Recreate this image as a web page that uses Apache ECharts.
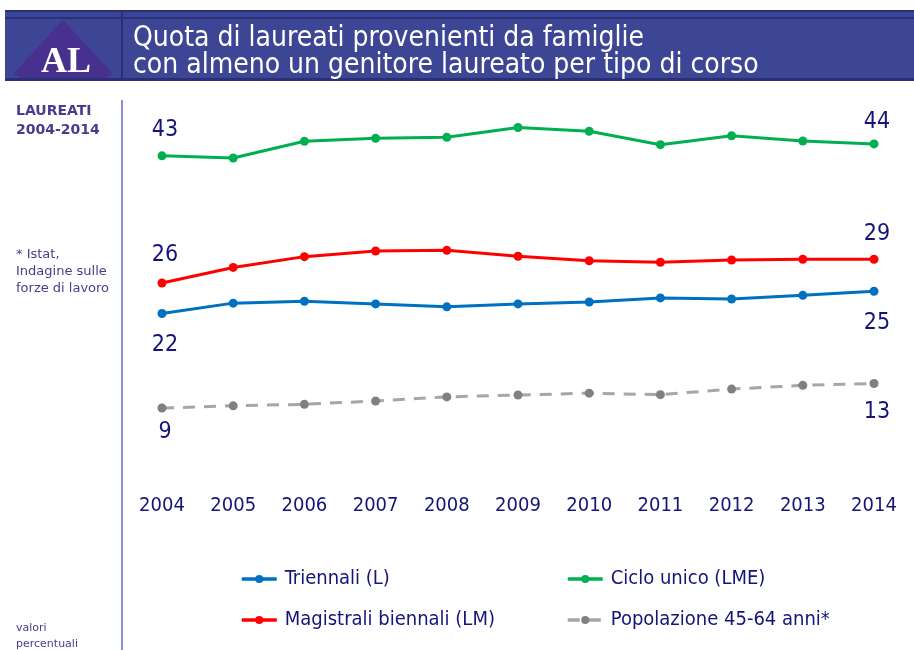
<!DOCTYPE html>
<html lang="it">
<head>
  <meta charset="utf-8" />
  <title>Quota di laureati con almeno un genitore laureato</title>
  <script src="https://cdn.jsdelivr.net/npm/echarts@6/dist/echarts.min.js"></script>
  <style>
    html, body { margin: 0; padding: 0; background: #fff; }
    #chart { width: 914px; height: 650px; }
  </style>
</head>
<body>
  <div id="chart"></div>
  <script>
    // dati (valori percentuali)
    var anni = ['2004', '2005', '2006', '2007', '2008', '2009', '2010', '2011', '2012', '2013', '2014'];
    var triennali = [21.7, 23.1, 23.35, 23.0, 22.6, 23.0, 23.25, 23.8, 23.65, 24.15, 24.7];
    var cicloUnico = [42.9, 42.6, 44.85, 45.25, 45.4, 46.7, 46.2, 44.4, 45.6, 44.9, 44.5];
    var magistrali = [25.8, 27.9, 29.35, 30.1, 30.2, 29.4, 28.8, 28.6, 28.9, 29.0, 29.0];
    var popolazione = [9.0, 9.3, 9.5, 9.95, 10.5, 10.75, 11.0, 10.8, 11.55, 12.05, 12.3];
    // etichette mostrate sul primo e ultimo anno
    var etichetteTriennali = ['22', '25'];
    var etichetteCiclo = ['43', '44'];
    var etichetteMagistrali = ['26', '29'];
    var etichettePopolazione = ['9', '13'];

    var navy = '#14147a';
    var narrow = '"Liberation Sans Narrow", "DejaVu Sans Condensed", "Liberation Sans", sans-serif';

    // costruisce i punti con etichetta solo agli estremi
    function punti(valori, etichette, pos, dist) {
      return valori.map(function (v, i) {
        var d = { value: v };
        var ultimo = valori.length - 1;
        if (i === 0 || i === ultimo) {
          d.label = {
            show: true,
            position: pos,
            distance: i === 0 ? dist[0] : dist[1],
            offset: [3, 0],
            formatter: i === 0 ? etichette[0] : etichette[1],
            color: navy,
            fontSize: 23,
            fontFamily: narrow
          };
        }
        return d;
      });
    }

    function serie(nome, valori, etichette, colore, pos, dist, extra) {
      var s = {
        name: nome,
        type: 'line',
        data: punti(valori, etichette, pos, dist),
        symbol: 'circle',
        symbolSize: 9,
        lineStyle: { width: 3, color: colore },
        itemStyle: { color: colore },
        emphasis: { disabled: true },
        z: 3
      };
      if (extra) { Object.assign(s.lineStyle, extra.lineStyle); Object.assign(s.itemStyle, extra.itemStyle); }
      return s;
    }

    var chart = echarts.init(document.getElementById('chart'));

    var legendBase = {
      itemWidth: 35,
      itemHeight: 10,
      selectedMode: false,
      lineStyle: { width: 3.5 },
      textStyle: { color: navy, fontSize: 20, fontFamily: narrow, padding: [0, 0, 0, 3] }
    };

    chart.setOption({
      animation: false,
      backgroundColor: '#ffffff',
      title: {
        text: 'Quota di laureati provenienti da famiglie\ncon almeno un genitore laureato per tipo di corso',
        left: 128,
        top: 20,
        textStyle: { color: '#ffffff', fontSize: 28, fontWeight: 'normal', lineHeight: 27, fontFamily: narrow }
      },
      grid: { left: 162, right: 40, top: 103, bottom: 175 },
      xAxis: {
        type: 'category',
        data: anni,
        boundaryGap: false,
        axisLine: { show: false },
        axisTick: { show: false },
        axisLabel: { color: navy, fontSize: 20, fontFamily: narrow, margin: 21 }
      },
      yAxis: {
        type: 'value',
        min: 0,
        max: 50,
        show: false,
        splitLine: { show: false }
      },
      legend: [
        Object.assign({}, legendBase, { data: ['Triennali (L)'], left: 235, top: 564 }),
        Object.assign({}, legendBase, { data: ['Ciclo unico (LME)'], left: 561, top: 564 }),
        Object.assign({}, legendBase, { data: ['Magistrali biennali (LM)'], left: 235, top: 605 }),
        Object.assign({}, legendBase, { data: ['Popolazione 45-64 anni*'], left: 561, top: 605 })
      ],
      series: [
        serie('Triennali (L)', triennali, etichetteTriennali, '#0070c0', 'bottom', [15, 16]),
        serie('Ciclo unico (LME)', cicloUnico, etichetteCiclo, '#00b050', 'top', [10, 6]),
        serie('Magistrali biennali (LM)', magistrali, etichetteMagistrali, '#ff0000', 'top', [12, 9]),
        serie('Popolazione 45-64 anni*', popolazione, etichettePopolazione, '#a6a6a6', 'bottom', [8, 13],
          { lineStyle: { type: [12, 9] }, itemStyle: { color: '#808080' } })
      ],
      graphic: [
        // intestazione
        { type: 'rect', shape: { x: 5, y: 10, width: 909, height: 70 }, style: { fill: '#3d4595' }, z: -1 },
        { type: 'rect', shape: { x: 5, y: 10, width: 909, height: 2 }, style: { fill: '#2a3078' } },
        { type: 'rect', shape: { x: 5, y: 17, width: 909, height: 2 }, style: { fill: '#2a3078' } },
        { type: 'rect', shape: { x: 5, y: 78, width: 909, height: 3 }, style: { fill: '#2a3078' } },
        { type: 'rect', shape: { x: 121, y: 10, width: 2, height: 70 }, style: { fill: '#2a3078' } },
        { type: 'polygon', shape: { points: [[63, 20], [14, 73], [20, 78], [106, 78], [112, 73]] }, style: { fill: '#48308f' } },
        { type: 'text', x: 66, y: 63, style: { text: 'AL', fill: '#ffffff', font: 'bold 36px "Liberation Serif", serif', align: 'center', verticalAlign: 'middle' } },
        // colonna sinistra
        { type: 'rect', shape: { x: 121, y: 100, width: 2, height: 550 }, style: { fill: '#8d8fd6' } },
        { type: 'text', x: 16, y: 102, style: { text: 'LAUREATI\n2004-2014', fill: '#4a3b8e', font: 'bold 14px "DejaVu Sans", sans-serif', lineHeight: 19 } },
        { type: 'text', x: 16, y: 246, style: { text: '* Istat,\nIndagine sulle\nforze di lavoro', fill: '#4a3b8e', font: '13px "DejaVu Sans", sans-serif', lineHeight: 17 } },
        { type: 'text', x: 16, y: 620, style: { text: 'valori\npercentuali', fill: '#4a3b8e', font: '11px "DejaVu Sans", sans-serif', lineHeight: 16 } }
      ]
    });
  </script>
</body>
</html>
